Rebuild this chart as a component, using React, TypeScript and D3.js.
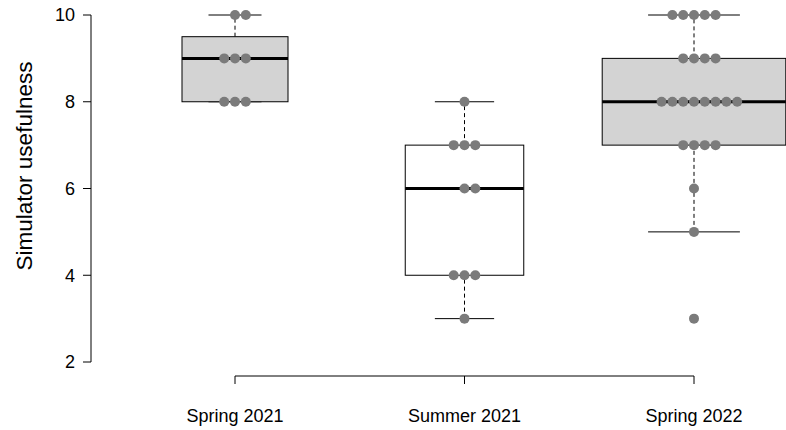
import { useEffect, useRef } from "react";
import * as d3 from "d3";

const groups = ["Spring 2021", "Summer 2021", "Spring 2022"];
const spring2021 = [8, 8, 8, 9, 9, 9, 10, 10];
const summer2021 = [3, 4, 4, 4, 6, 6, 7, 7, 7, 8];
const spring2022 = [3, 5, 6, 7, 7, 7, 7, 8, 8, 8, 8, 8, 8, 8, 8, 9, 9, 9, 9, 10, 10, 10, 10, 10];
const boxFills = ["#d3d3d3", "#ffffff", "#d3d3d3"];
const yTicks = [2, 4, 6, 8, 10];

const FONT = "'Liberation Sans', Arial, sans-serif";
const POINT = "#7b7b7b";

// R-style fivenum (Tukey hinges)
function fivenum(v: number[]) {
  const s = [...v].sort((a, b) => a - b);
  const n = s.length;
  const n4 = Math.floor((n + 3) / 2) / 2;
  const idx = [1, n4, (n + 1) / 2, n + 1 - n4, n];
  return idx.map((i) => 0.5 * (s[Math.floor(i) - 1] + s[Math.ceil(i) - 1]));
}

export default function App() {
  const ref = useRef<SVGSVGElement>(null);

  useEffect(() => {
    if (!ref.current) return;
    const width = 786;
    const height = 430;
    const svg = d3.select(ref.current);
    svg.selectAll("*").remove();
    svg.attr("width", width).attr("height", height);

    const series = [spring2021, summer2021, spring2022];

    const x = d3.scalePoint<string>().domain(groups).range([235, 694]);
    const unit = (694 - 235) / 2;
    const y = d3.scaleLinear().domain([2, 10]).range([362, 15]);

    const maxN = d3.max(series, (s) => s.length) ?? 1;
    const spacing = 10.8;

    series.forEach((vals, i) => {
      const cx = x(groups[i]) ?? 0;
      const [lo, q1, med, q3, hi] = fivenum(vals);
      const iqr = q3 - q1;
      const inside = vals.filter((v) => v >= q1 - 1.5 * iqr && v <= q3 + 1.5 * iqr);
      const wLo = d3.min(inside) ?? lo;
      const wHi = d3.max(inside) ?? hi;
      const half = 0.4 * unit * Math.sqrt(vals.length / maxN);
      const g = svg.append("g");

      // whiskers
      [[wLo, q1], [q3, wHi]].forEach(([a, b]) => {
        g.append("line")
          .attr("x1", cx).attr("x2", cx)
          .attr("y1", y(a)).attr("y2", y(b))
          .attr("stroke", "#000").attr("stroke-dasharray", "4,3");
      });
      [wLo, wHi].forEach((v) => {
        g.append("line")
          .attr("x1", cx - half / 2).attr("x2", cx + half / 2)
          .attr("y1", y(v)).attr("y2", y(v))
          .attr("stroke", "#000");
      });
      g.append("rect")
        .attr("x", cx - half).attr("width", half * 2)
        .attr("y", y(q3)).attr("height", y(q1) - y(q3))
        .attr("fill", boxFills[i]).attr("stroke", "#000");
      g.append("line")
        .attr("x1", cx - half).attr("x2", cx + half)
        .attr("y1", y(med)).attr("y2", y(med))
        .attr("stroke", "#000").attr("stroke-width", 3);

      // beeswarm-like points
      const counts = d3.rollup(vals, (v) => v.length, (d) => d);
      const pts: { v: number; off: number }[] = [];
      counts.forEach((n, v) => {
        const start = n % 2 === 1 ? -(n - 1) / 2 : -(n / 2 - 1);
        for (let k = 0; k < n; k++) pts.push({ v, off: start + k });
      });
      g.selectAll("circle")
        .data(pts)
        .join("circle")
        .attr("cx", (d) => cx + d.off * spacing)
        .attr("cy", (d) => y(d.v))
        .attr("r", 5)
        .attr("fill", POINT);
    });

    // y axis
    const ya = svg.append("g");
    ya.append("line")
      .attr("x1", 91).attr("x2", 91)
      .attr("y1", y(2)).attr("y2", y(10))
      .attr("stroke", "#000");
    ya.selectAll("line.tick")
      .data(yTicks)
      .join("line")
      .attr("class", "tick")
      .attr("x1", 83).attr("x2", 91)
      .attr("y1", (d) => y(d)).attr("y2", (d) => y(d))
      .attr("stroke", "#000");
    ya.selectAll("text")
      .data(yTicks)
      .join("text")
      .attr("x", 75)
      .attr("y", (d) => y(d))
      .attr("dy", "0.35em")
      .attr("text-anchor", "end")
      .attr("font-family", FONT)
      .attr("font-size", 18)
      .text((d) => d);

    svg.append("text")
      .attr("transform", "translate(32,166) rotate(-90)")
      .attr("text-anchor", "middle")
      .attr("font-family", FONT)
      .attr("font-size", 22.5)
      .text("Simulator usefulness");

    // x axis
    const xa = svg.append("g");
    xa.append("line")
      .attr("x1", x(groups[0]) ?? 0).attr("x2", x(groups[2]) ?? 0)
      .attr("y1", 376).attr("y2", 376)
      .attr("stroke", "#000");
    xa.selectAll("line.tick")
      .data(groups)
      .join("line")
      .attr("class", "tick")
      .attr("x1", (d) => x(d) ?? 0).attr("x2", (d) => x(d) ?? 0)
      .attr("y1", 376).attr("y2", 384)
      .attr("stroke", "#000");
    xa.selectAll("text")
      .data(groups)
      .join("text")
      .attr("x", (d) => x(d) ?? 0)
      .attr("y", 422)
      .attr("text-anchor", "middle")
      .attr("font-family", FONT)
      .attr("font-size", 18)
      .text((d) => d);
  }, []);

  return (
    <svg
      ref={ref}
      style={{ position: "absolute", left: 0, top: 0, display: "block", background: "#fff" }}
    />
  );
}
